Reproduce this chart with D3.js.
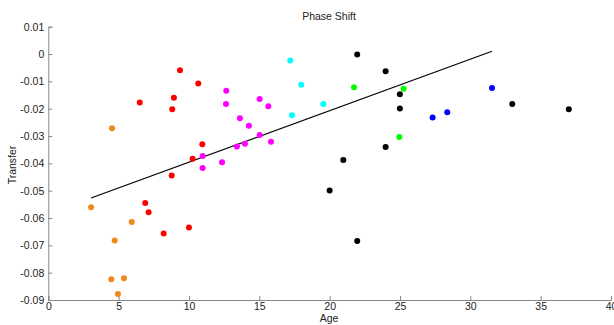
<!DOCTYPE html>
<html><head><meta charset="utf-8">
<script src="https://cdn.jsdelivr.net/npm/d3@7"></script>
<style>body{margin:0;background:#fff}svg{display:block}text{font-family:"Liberation Sans",Arial,sans-serif;fill:#222}</style>
</head><body>
<svg id="c" width="614" height="325"></svg>
<script>
const xTicks = [0,5,10,15,20,25,30,35,40];
const yTicks = [0.01,0,-0.01,-0.02,-0.03,-0.04,-0.05,-0.06,-0.07,-0.08,-0.09];
const yTickLabels = ["0.01","0","-0.01","-0.02","-0.03","-0.04","-0.05","-0.06","-0.07","-0.08","-0.09"];

const orangeX = [3.04,4.53,4.72,5.93,4.48,5.38,4.95];
const orangeY = [-0.0561,-0.0272,-0.0682,-0.0615,-0.0824,-0.0820,-0.0878];
const redX = [6.5,9.36,8.93,8.81,10.66,8.77,6.89,7.13,8.2,10.0,10.26,10.95];
const redY = [-0.0177,-0.0059,-0.0160,-0.0202,-0.0108,-0.0444,-0.0545,-0.0579,-0.0657,-0.0635,-0.0383,-0.0330];
const magentaX = [12.65,12.63,13.62,14.26,15.02,15.64,15.02,15.83,13.98,13.41,10.97,10.97,12.35];
const magentaY = [-0.0134,-0.0183,-0.0235,-0.0262,-0.0165,-0.0191,-0.0296,-0.0321,-0.0328,-0.0338,-0.0373,-0.0417,-0.0396];
const cyanX = [17.2,17.98,19.55,17.32];
const cyanY = [-0.0024,-0.0112,-0.0183,-0.0224];
const greenX = [21.73,25.26,24.95];
const greenY = [-0.0122,-0.0127,-0.0304];
const blackX = [21.96,23.98,24.99,24.99,23.98,20.97,20.0,21.96,32.98,37.0];
const blackY = [-0.0002,-0.0063,-0.0147,-0.0199,-0.0340,-0.0388,-0.0499,-0.0684,-0.0183,-0.0202];
const blueX = [31.54,27.32,28.36];
const blueY = [-0.0124,-0.0232,-0.0213];
const fitX = [3.04,31.54];
const fitY = [-0.0527,0.0010];

const groups = [
  {x:orangeX,y:orangeY,c:"#ee8a1c"},
  {x:redX,y:redY,c:"#ff0000"},
  {x:magentaX,y:magentaY,c:"#ff00ff"},
  {x:cyanX,y:cyanY,c:"#00ffff"},
  {x:greenX,y:greenY,c:"#00ff00"},
  {x:blackX,y:blackY,c:"#000000"},
  {x:blueX,y:blueY,c:"#0000ff"}
];

const svg = d3.select("#c");
const x = d3.scaleLinear().domain([0,40]).range([48.3,611]);
const y = d3.scaleLinear().domain([-0.09,0.01]).range([300,26.7]);
const axisColor = "#888";

const gx = svg.append("g").attr("transform","translate(0,300)")
  .call(d3.axisBottom(x).tickValues(xTicks).tickSize(-4).tickPadding(3).tickFormat(d3.format("d")));
const gy = svg.append("g").attr("transform","translate(48.3,0)")
  .call(d3.axisLeft(y).tickValues(yTicks).tickSize(-4).tickPadding(4).tickFormat((d,i)=>yTickLabels[i]));
[gx,gy].forEach(g=>{
  g.select(".domain").attr("stroke",axisColor);
  g.selectAll(".tick line").attr("stroke",axisColor);
  g.selectAll(".tick text").attr("font-size","10.5px").attr("fill","#222").attr("font-family","'Liberation Sans',Arial,sans-serif");
});
gx.selectAll(".tick text").attr("y",3).attr("dy","0.71em");

svg.append("line")
  .attr("x1",x(fitX[0])).attr("y1",y(fitY[0]))
  .attr("x2",x(fitX[1])).attr("y2",y(fitY[1]))
  .attr("stroke","#000").attr("stroke-width",1.2);

groups.forEach(g=>{
  svg.append("g").selectAll("circle").data(g.x.map((v,i)=>[v,g.y[i]])).join("circle")
    .attr("cx",d=>x(d[0])).attr("cy",d=>y(d[1])).attr("r",3).attr("fill",g.c);
});

svg.append("text").attr("x",329).attr("y",20).attr("text-anchor","middle").attr("font-size","10.5px").text("Phase Shift");
svg.append("text").attr("x",329).attr("y",322).attr("text-anchor","middle").attr("font-size","10.5px").text("Age");
svg.append("text").attr("transform","translate(16,165) rotate(-90)").attr("text-anchor","middle").attr("font-size","10.5px").text("Transfer");
</script>
</body></html>
